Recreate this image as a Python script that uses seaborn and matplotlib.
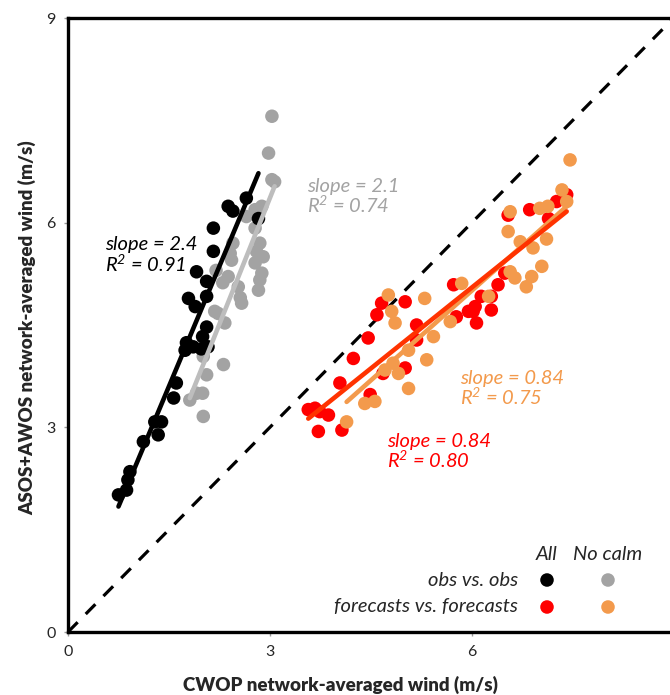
import matplotlib
matplotlib.use("Agg")
import matplotlib.pyplot as plt
import seaborn as sns

# ---------------- data ----------------
obs_all_x = [0.75, 0.87, 0.92, 0.89, 1.12, 1.29, 1.34, 1.39, 1.57, 1.61, 1.74, 1.86,
             1.79, 1.89, 2.06, 1.91, 2.06, 2.16, 2.16, 2.38, 2.45, 2.65, 2.83, 2.06,
             2.00, 1.76, 2.08, 1.98]
obs_all_y = [2.01, 2.08, 2.35, 2.23, 2.79, 3.08, 2.89, 3.08, 3.43, 3.65, 4.13, 4.18,
             4.89, 4.77, 4.92, 5.28, 5.14, 5.58, 5.92, 6.24, 6.17, 6.36, 6.06, 4.47,
             4.33, 4.24, 4.18, 4.15]

obs_nocalm_x = [3.03, 2.98, 3.03, 3.07, 2.88, 2.78, 2.65, 2.78, 2.85, 2.80, 2.90, 2.78,
                2.88, 2.85, 2.83, 2.41, 2.43, 2.38, 2.53, 2.58, 2.23, 2.33, 2.06, 2.01,
                2.31, 2.06, 1.91, 2.00, 2.01, 2.30, 2.56, 2.18, 1.81, 2.20, 2.45]
obs_nocalm_y = [7.56, 7.02, 6.63, 6.60, 6.24, 6.19, 6.09, 5.92, 5.70, 5.58, 5.50, 5.41,
                5.26, 5.16, 5.01, 5.55, 5.45, 5.21, 5.06, 4.82, 4.67, 4.53, 4.18, 4.04,
                3.92, 3.77, 3.50, 3.50, 3.16, 5.12, 4.90, 4.70, 3.40, 5.30, 5.70]

fc_all_x = [3.57, 3.67, 3.74, 3.87, 3.72, 4.07, 4.04, 4.24, 4.46, 4.49, 4.68, 5.01,
            4.59, 4.66, 5.01, 5.18, 5.18, 5.73, 6.02, 6.07, 5.77, 5.95, 6.05, 6.14,
            6.29, 6.29, 6.39, 6.49, 6.54, 6.86, 7.14, 7.26, 7.38, 7.41]
fc_all_y = [3.26, 3.28, 3.23, 3.18, 2.94, 2.96, 3.65, 4.01, 4.31, 3.48, 3.79, 3.87,
            4.65, 4.82, 4.84, 4.50, 4.28, 5.09, 4.70, 4.53, 4.62, 4.70, 4.77, 4.92,
            4.72, 4.92, 5.09, 5.26, 6.11, 6.19, 6.06, 6.31, 6.38, 6.41]

fc_nocalm_x = [4.14, 4.41, 4.56, 5.06, 4.71, 4.83, 4.91, 5.06, 5.33, 5.43, 4.86, 4.76,
               4.81, 5.30, 5.68, 5.85, 6.25, 6.57, 6.64, 6.81, 6.89, 7.04, 6.72, 6.91,
               7.11, 6.54, 6.57, 7.01, 7.13, 7.34, 7.41, 7.46]
fc_nocalm_y = [3.08, 3.35, 3.38, 3.57, 3.84, 3.94, 3.79, 4.13, 3.99, 4.33, 4.53, 4.94,
               4.70, 4.89, 4.55, 5.11, 4.92, 5.28, 5.19, 5.06, 5.21, 5.36, 5.72, 5.63,
               5.76, 5.87, 6.16, 6.21, 6.24, 6.48, 6.31, 6.92]

x_ticks = [0, 3, 6]
y_ticks = [0, 3, 6, 9]

stats_labels = {
    "obs_all": "slope = 2.4\nR$^2$ = 0.91",
    "obs_nocalm": "slope = 2.1\nR$^2$ = 0.74",
    "fc_nocalm": "slope = 0.84\nR$^2$ = 0.75",
    "fc_all": "slope = 0.84\nR$^2$ = 0.80",
}

# ---------------- style ----------------
sns.set_style("white")
plt.rcParams["font.family"] = ["Lato", "DejaVu Sans"]
plt.rcParams["mathtext.fontset"] = "custom"
plt.rcParams["mathtext.rm"] = "Lato:italic"
plt.rcParams["mathtext.it"] = "Lato:italic"

C_BLACK = "#000000"
C_GRAY = "#a3a3a3"
C_GRAY_LINE = "#bdbdbd"
C_RED = "#ff0000"
C_RED_LINE = "#ff3300"
C_ORANGE = "#f39a4c"

W, H = 670, 695
fig = plt.figure(figsize=(W / 100, H / 100), dpi=100)
ax = fig.add_axes([68 / W, 63 / H, 602 / W, 614 / H])

# 1:1 line
ax.plot([0, 9], [0, 9], color="k", lw=2.3, ls=(0, (4.3, 3.6)), zorder=1)

# scatter points
pt = 95
sns.scatterplot(x=obs_nocalm_x, y=obs_nocalm_y, color=C_GRAY, s=pt, edgecolor="none",
                ax=ax, zorder=2, legend=False)
sns.scatterplot(x=obs_all_x, y=obs_all_y, color=C_BLACK, s=pt, edgecolor="none",
                ax=ax, zorder=3, legend=False)
sns.scatterplot(x=fc_all_x, y=fc_all_y, color=C_RED, s=pt, edgecolor="none",
                ax=ax, zorder=2, legend=False)
sns.scatterplot(x=fc_nocalm_x, y=fc_nocalm_y, color=C_ORANGE, s=pt, edgecolor="none",
                ax=ax, zorder=3, legend=False)

# regression lines
lw = 3.3
sns.regplot(x=obs_nocalm_x, y=obs_nocalm_y, scatter=False, ci=None, truncate=True,
            color=C_GRAY_LINE, line_kws={"lw": lw, "zorder": 4}, ax=ax)
sns.regplot(x=obs_all_x, y=obs_all_y, scatter=False, ci=None, truncate=True,
            color=C_BLACK, line_kws={"lw": lw, "zorder": 5}, ax=ax)
sns.regplot(x=fc_nocalm_x, y=fc_nocalm_y, scatter=False, ci=None, truncate=True,
            color=C_ORANGE, line_kws={"lw": lw, "zorder": 4}, ax=ax)
sns.regplot(x=fc_all_x, y=fc_all_y, scatter=False, ci=None, truncate=True,
            color=C_RED_LINE, line_kws={"lw": lw, "zorder": 5}, ax=ax)

# stats annotations
ann_kw = dict(fontsize=14.5, style="italic", va="top", ha="left", linespacing=1.0)
ax.text(0.55, 5.80, stats_labels["obs_all"], color=C_BLACK, **ann_kw)
ax.text(3.55, 6.66, stats_labels["obs_nocalm"], color=C_GRAY, **ann_kw)
ax.text(5.82, 3.84, stats_labels["fc_nocalm"], color=C_ORANGE, **ann_kw)
ax.text(4.74, 2.92, stats_labels["fc_all"], color=C_RED, **ann_kw)

# axes formatting
ax.set_xlim(0, 8.945)
ax.set_ylim(0, 9)
ax.set_xticks(x_ticks)
ax.set_yticks(y_ticks)
ax.set_xticklabels([str(t) for t in x_ticks])
ax.set_yticklabels([str(t) for t in y_ticks])
for side in ["left", "bottom", "top"]:
    ax.spines[side].set_visible(True)
    ax.spines[side].set_linewidth(2.4)
    ax.spines[side].set_color("k")
ax.spines["right"].set_visible(False)
ax.tick_params(axis="both", direction="out", length=3, width=1, color="#9a9a9a",
               labelsize=11.5, pad=6, left=True, bottom=True)

ax.set_xlabel("CWOP network-averaged wind (m/s)", fontsize=13.5, fontweight="heavy")
ax.set_ylabel("ASOS+AWOS network-averaged wind (m/s)", fontsize=13.5, fontweight="heavy")
ax.xaxis.set_label_coords((340 - 68) / 602, -0.072)
ax.yaxis.set_label_coords(-0.052, 0.495)

# custom two-column legend
def axc(px, py):
    return (px - 68) / 602, (632 - py) / 614

leg_kw = dict(fontsize=14.5, style="italic", transform=ax.transAxes, va="center")
for txt, px in [("All", 547), ("No calm", 608)]:
    x0, y0 = axc(px, 555)
    ax.text(x0, y0, txt, ha="center", **leg_kw)
for txt, py in [("obs vs. obs", 581), ("forecasts vs. forecasts", 606)]:
    x0, y0 = axc(518, py)
    ax.text(x0, y0, txt, ha="right", **leg_kw)
for (px, py, c) in [(547, 580, C_BLACK), (608, 580, C_GRAY),
                    (547, 607, C_RED), (608, 607, C_ORANGE)]:
    x0, y0 = axc(px, py)
    ax.scatter([x0], [y0], s=pt, color=c, edgecolor="none", transform=ax.transAxes,
               zorder=6, clip_on=False)

fig.savefig("out.png", dpi=100)
